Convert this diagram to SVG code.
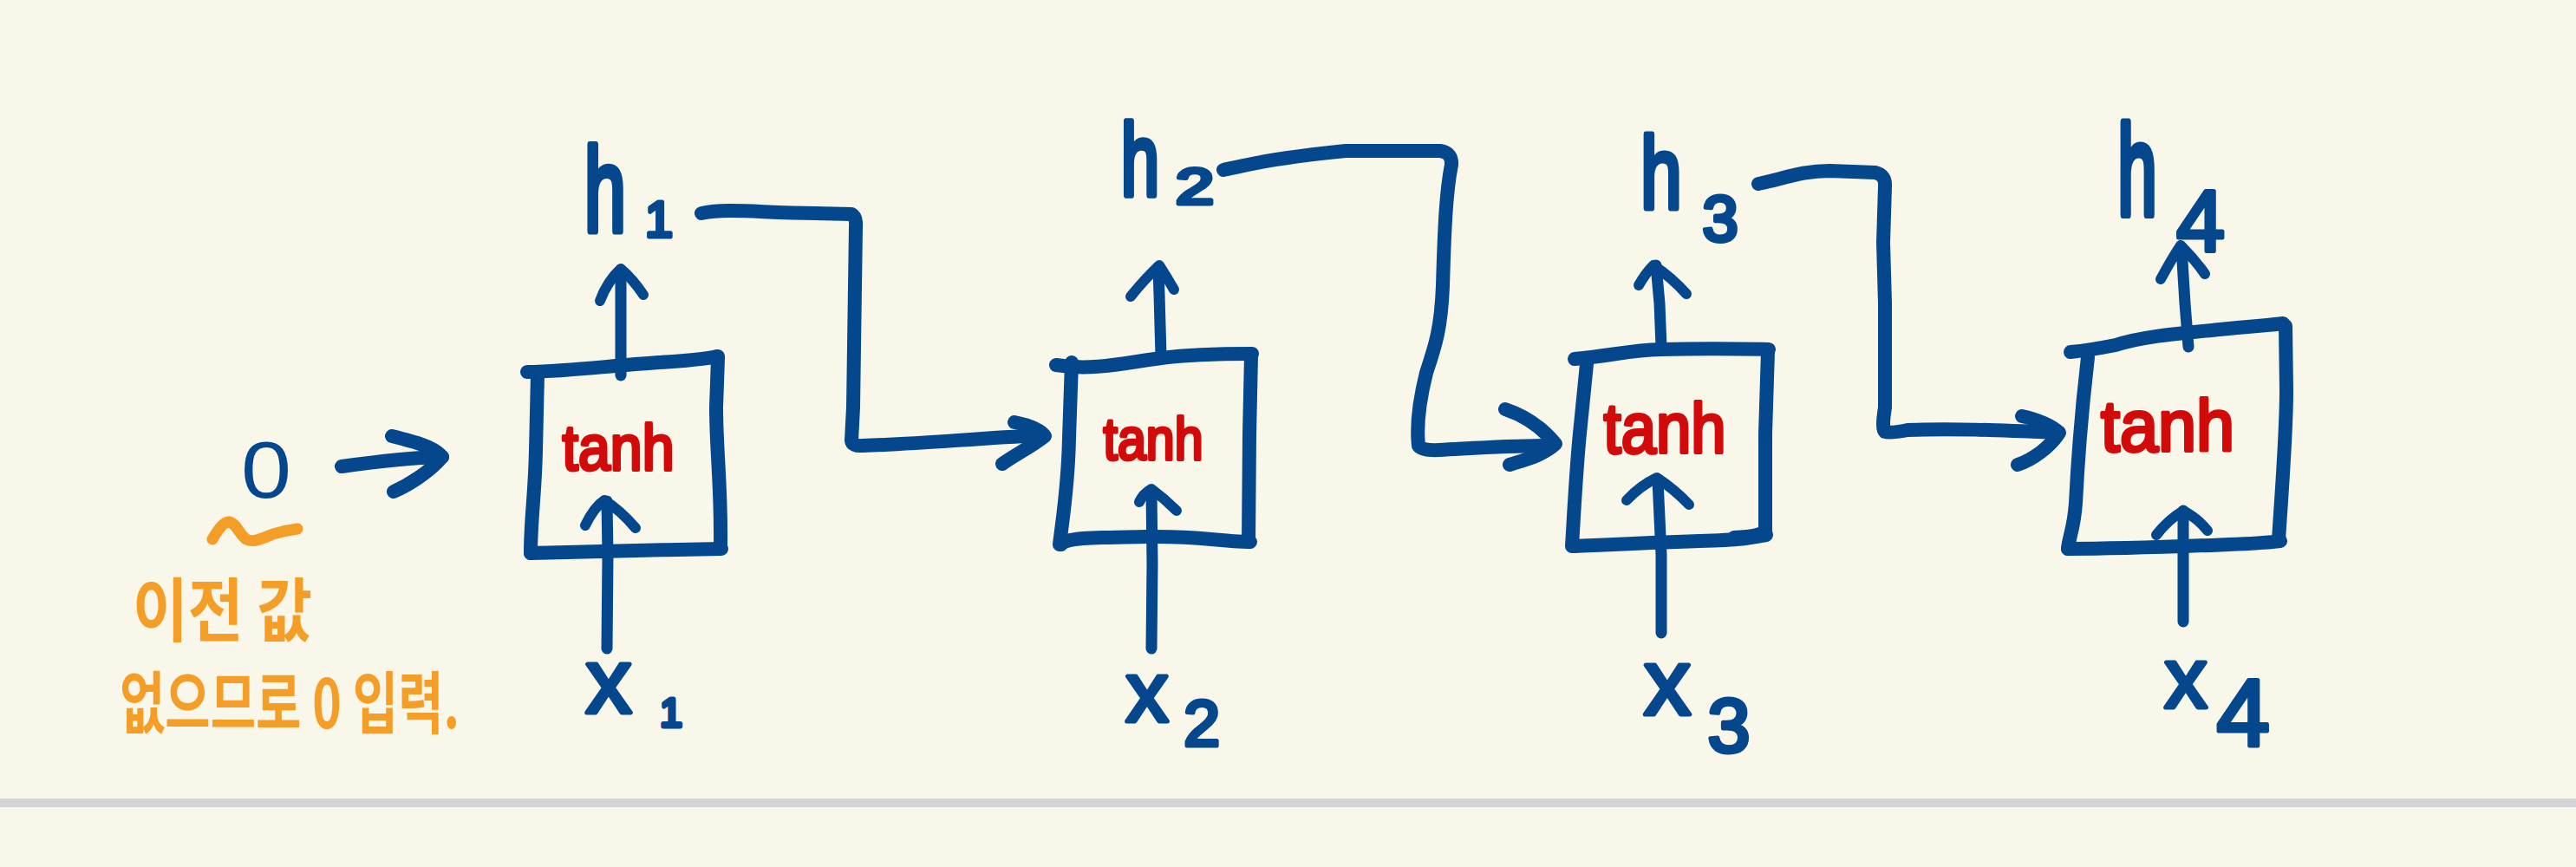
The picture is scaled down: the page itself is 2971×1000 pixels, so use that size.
<svg xmlns="http://www.w3.org/2000/svg" width="2971" height="1000" viewBox="0 0 2971 1000">
<style>
.bg{fill:#f9f6ea}
.bar{fill:#d3d4d6}
.box{fill:none;stroke:#05478d;stroke-width:16;stroke-linecap:round;stroke-linejoin:round}
.con{fill:none;stroke:#05478d;stroke-width:16;stroke-linecap:round;stroke-linejoin:round}
.arr{fill:none;stroke:#05478d;stroke-width:13;stroke-linecap:round;stroke-linejoin:round}
.wing{fill:none;stroke:#05478d;stroke-width:12;stroke-linecap:round;stroke-linejoin:round}
.squig{fill:none;stroke:#f59e27;stroke-width:13;stroke-linecap:round;stroke-linejoin:round}
.lbl{font-family:"Liberation Sans",Arial,sans-serif;fill:#05478d;stroke:#05478d;stroke-width:5;stroke-linejoin:round;text-anchor:middle}
.zero{font-family:"Liberation Sans",Arial,sans-serif;fill:#05478d;text-anchor:middle}
.fn{font-family:"Liberation Sans",Arial,sans-serif;fill:#d20a0a;stroke:#d20a0a;stroke-width:4;stroke-linejoin:round;text-anchor:middle}
.ko{font-family:"Noto Sans CJK KR","Noto Sans",sans-serif;font-weight:700;fill:#f59e27}
</style>
<rect class="bg" x="0" y="0" width="2971" height="1000"/>
<rect class="bar" x="0" y="921" width="2971" height="10"/>

<g id="init">
  <text class="zero" x="307" y="574" font-size="92" textLength="58" lengthAdjust="spacingAndGlyphs">0</text>
  <path class="squig" d="M245,622 C252,610 258,602 264,602 C272,603 276,616 284,622 C292,626 300,622 315,616 C325,613 335,611 343,610"/>
  <text class="ko" transform="translate(153,733) scale(1,1.22)" x="0" y="0" font-size="65" textLength="207" lengthAdjust="spacingAndGlyphs">이전 값</text>
  <text class="ko" transform="translate(138,840) scale(1,1.45)" x="0" y="0" font-size="54" textLength="392" lengthAdjust="spacingAndGlyphs">없으므로 0 입력.</text>
</g>

<g id="cell1">
  <path class="box" d="M608,429 C660,428 700,422 760,418 S820,412 828,411"/>
  <path class="box" d="M828,413 L826,470 C826,520 832,560 831,630"/>
  <path class="box" d="M612,638 C700,636 760,634 832,633"/>
  <path class="box" d="M620,432 L618,520 C617,570 612,600 612,638"/>
  <text class="fn" x="713" y="542" font-size="74" textLength="129" lengthAdjust="spacingAndGlyphs">tanh</text>
</g>
<g id="cell2">
  <path class="box" d="M1218,421 C1260,428 1300,418 1339,413 S1420,408 1444,408"/>
  <path class="box" d="M1443,410 L1441,500 L1440,625"/>
  <path class="box" d="M1224,628 C1230,620 1260,620 1322,619 S1400,624 1442,625"/>
  <path class="box" d="M1236,418 L1233,505 C1232,560 1226,595 1222,628"/>
  <text class="fn" x="1330" y="530" font-size="68" textLength="115" lengthAdjust="spacingAndGlyphs">tanh</text>
</g>
<g id="cell3">
  <path class="box" d="M1816,414 C1860,410 1880,404 1915,403 S2000,402 2040,403"/>
  <path class="box" d="M2039,405 L2036,500 L2036,612 Q2034,618 2000,620"/>
  <path class="box" d="M1816,630 C1860,628 1900,626 1960,624 S2020,620 2037,617"/>
  <path class="box" d="M1830,420 L1822,500 C1818,540 1816,580 1813,630"/>
  <text class="fn" x="1920" y="522" font-size="82" textLength="141" lengthAdjust="spacingAndGlyphs">tanh</text>
</g>
<g id="cell4">
  <path class="box" d="M2388,406 C2410,404 2425,401 2440,398 C2470,388 2510,385 2560,380 S2620,375 2633,373"/>
  <path class="box" d="M2636,376 L2637,450 C2637,500 2632,560 2628,623"/>
  <path class="box" d="M2385,633 C2450,633 2520,630 2570,628 S2620,625 2630,624"/>
  <path class="box" d="M2408,412 C2400,480 2396,540 2394,580 C2392,610 2386,620 2385,633"/>
  <text class="fn" x="2500" y="520" font-size="84" textLength="154" lengthAdjust="spacingAndGlyphs">tanh</text>
</g>

<g id="labels-h">
  <text class="lbl" transform="translate(698,267) scale(1,1.6)" x="0" y="0" font-size="86">h</text>
  <text class="lbl" x="760" y="273" font-size="57">1</text>
  <text class="lbl" transform="translate(1315,225) scale(1,1.48)" x="0" y="0" font-size="79">h</text>
  <text class="lbl" x="1378" y="235" font-size="58" textLength="44" lengthAdjust="spacingAndGlyphs">2</text>
  <text class="lbl" transform="translate(1916,240) scale(1,1.38)" x="0" y="0" font-size="85">h</text>
  <text class="lbl" x="1984" y="278" font-size="74">3</text>
  <text class="lbl" transform="translate(2465,247) scale(1,1.81)" x="0" y="0" font-size="81">h</text>
  <text class="lbl" x="2538" y="290" font-size="100">4</text>
</g>
<g id="labels-x">
  <text class="lbl" x="702" y="822" font-size="106">x</text>
  <text class="lbl" x="774" y="838" font-size="46">1</text>
  <text class="lbl" x="1323" y="832" font-size="98">x</text>
  <text class="lbl" x="1386" y="860" font-size="75">2</text>
  <text class="lbl" x="1923" y="824" font-size="108">x</text>
  <text class="lbl" x="1994" y="867" font-size="88">3</text>
  <text class="lbl" x="2521" y="816" font-size="98">x</text>
  <text class="lbl" x="2587" y="860" font-size="110">4</text>
</g>

<g id="connectors">
  <path class="con" d="M394,538 C430,533 470,528 510,527"/>
  <path class="con" d="M452,503 C480,510 500,515 510,527 C495,545 470,560 454,567"/>
  <path class="con" d="M809,246 C840,240 870,245 940,246 L982,247 Q988,250 987,262 L984,470 L982,508 Q983,515 995,514 C1060,512 1120,506 1200,502"/>
  <path class="con" d="M1170,487 C1185,490 1200,495 1205,503 C1190,515 1170,525 1156,535"/>
  <path class="con" d="M1411,196 C1440,190 1470,182 1552,174 L1661,174 Q1675,176 1674,190 C1668,220 1666,260 1664,330 C1662,380 1655,400 1645,430 C1635,470 1634,495 1636,514 Q1640,520 1660,519 C1700,517 1740,514 1790,514"/>
  <path class="con" d="M1736,472 C1760,480 1780,495 1794,512 C1780,525 1760,530 1741,536"/>
  <path class="con" d="M2028,212 C2060,205 2080,197 2110,197 L2163,199 Q2175,202 2174,215 L2172,280 L2174,350 L2174,470 Q2170,495 2174,498 Q2180,500 2200,496 C2250,494 2300,496 2370,499"/>
  <path class="con" d="M2332,480 C2350,484 2365,490 2375,499 C2365,515 2345,530 2327,536"/>
  <path class="arr" d="M700,748 L701,640 L700,578"/>
  <path class="wing" d="M675,606 Q685,585 697,577 Q715,588 733,609"/>
  <path class="arr" d="M1328,748 L1329,650 L1328,566"/>
  <path class="wing" d="M1314,579 Q1318,570 1328,564 Q1343,575 1357,589"/>
  <path class="arr" d="M1916,730 L1916,640 L1912,554"/>
  <path class="wing" d="M1876,577 Q1892,560 1911,551 Q1932,565 1948,582"/>
  <path class="arr" d="M2518,717 L2518,640 L2518,589"/>
  <path class="wing" d="M2487,617 Q2500,600 2518,589 Q2535,598 2546,612"/>
  <path class="arr" d="M716,433 L716,360 L716,312"/>
  <path class="wing" d="M692,347 Q700,325 716,310 Q730,322 742,340"/>
  <path class="arr" d="M1339,411 L1337,340 L1336,308"/>
  <path class="wing" d="M1304,342 Q1320,322 1337,306 Q1346,320 1354,334"/>
  <path class="arr" d="M1916,400 L1914,350 L1910,306"/>
  <path class="wing" d="M1890,329 Q1898,315 1907,306 Q1928,320 1945,339"/>
  <path class="arr" d="M2524,400 L2520,350 L2516,285"/>
  <path class="wing" d="M2492,322 Q2505,298 2515,283 Q2532,300 2543,316"/>
</g>
</svg>
